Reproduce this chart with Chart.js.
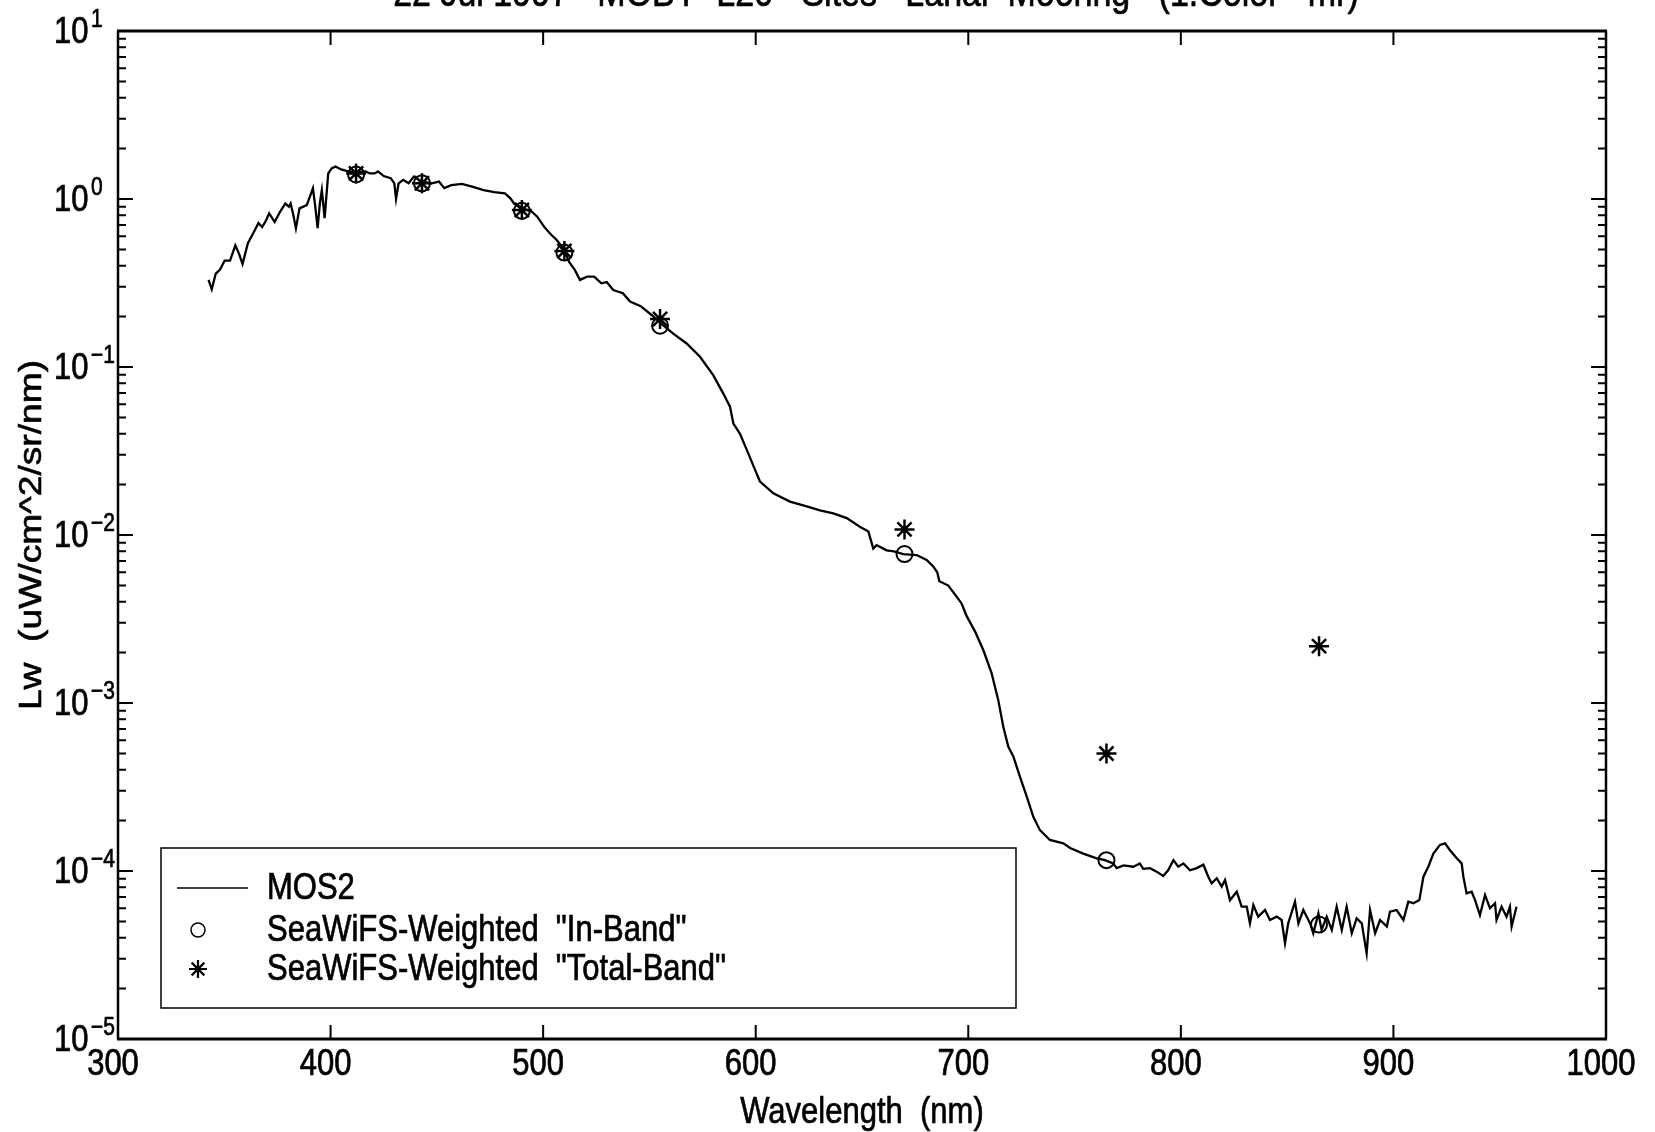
<!DOCTYPE html>
<html lang="en">
<head>
    <meta charset="UTF-8">
    <title>MOBY L20 - Lw spectrum</title>
    <script src="https://cdn.jsdelivr.net/npm/chart.js"></script>
    <style>
        html, body { margin: 0; padding: 0; background: #fff; }
        #wrap { width: 1655px; height: 1132px; }
    </style>
</head>
<body>
    <div id="wrap"><canvas id="lwChart" width="1655" height="1132"></canvas></div>
    <script>
        // MOS2 spectrum
        const mosWavelength = [
            342.6, 344.1, 346.0, 348.0, 350.2, 352.7, 355.2, 357.0, 358.6, 361.1,
            363.6, 366.1, 367.8, 369.5, 371.1, 373.7, 376.0, 378.7, 380.4, 381.2,
            382.5, 383.7, 385.4, 388.8, 390.5, 391.7, 392.8, 393.9, 395.0, 395.9,
            397.2, 398.9, 400.5, 402.3, 405.0, 408.2, 412.3, 416.5, 418.5, 420.7,
            422.3, 425.0, 428.3, 430.0, 430.8, 432.0, 434.2, 436.7, 439.2, 441.5,
            443.4, 447.6, 451.0, 453.5, 456.8, 461.8, 467.0, 472.0, 477.0, 482.0,
            484.6, 486.3, 490.5, 494.7, 497.2, 500.6, 503.9, 506.4, 509.8, 512.3,
            514.8, 517.3, 520.7, 524.0, 527.4, 529.9, 533.0, 537.5, 540.9, 545.9,
            551.0, 555.1, 561.2, 567.5, 573.8, 580.0, 584.7, 587.9, 589.5, 592.6,
            596.5, 599.7, 602.0, 608.3, 616.1, 624.0, 630.2, 636.5, 642.8, 649.0,
            653.0, 655.3, 656.9, 661.6, 665.0, 669.4, 675.7, 680.4, 683.5, 685.4,
            686.4, 690.6, 694.5, 696.9, 699.2, 703.2, 707.1, 711.0, 714.1, 716.5,
            718.8, 721.2, 724.3, 727.5, 730.6, 733.7, 738.4, 744.7, 747.9, 754.1,
            760.4, 764.3, 768.2, 769.8, 773.0, 777.6, 780.7, 782.3, 785.5, 788.6,
            791.7, 794.0, 796.5, 798.8, 801.2, 804.3, 807.5, 810.6, 812.9, 814.5,
            816.9, 819.2, 820.8, 823.1, 826.3, 828.6, 831.0, 832.5, 834.1, 836.4,
            839.6, 841.9, 845.1, 847.4, 849.0, 850.5, 853.7, 855.3, 857.6, 860.8,
            862.3, 864.7, 866.2, 868.6, 871.0, 873.3, 875.7, 878.0, 880.4, 882.7,
            885.1, 887.4, 889.0, 891.4, 893.7, 896.9, 898.4, 901.5, 904.7, 907.0,
            909.4, 912.2, 914.1, 916.4, 918.8, 921.9, 924.3, 926.6, 929.8, 932.1,
            932.9, 934.4, 936.8, 938.4, 940.7, 943.1, 945.4, 947.8, 948.5, 950.9,
            953.2, 954.8, 955.6, 957.9
        ];
        const mosLw = [
            0.33, 0.29, 0.36, 0.38, 0.43, 0.43, 0.53, 0.47, 0.41, 0.545,
            0.625, 0.72, 0.68, 0.74, 0.82, 0.73, 0.83, 0.94, 0.90, 0.94,
            0.80, 0.67, 0.88, 0.92, 1.05, 1.16, 0.90, 0.67, 0.95, 1.13,
            0.77, 1.42, 1.52, 1.56, 1.50, 1.46, 1.44, 1.46, 1.42, 1.42,
            1.46, 1.37, 1.33, 1.24, 1.00, 1.24, 1.30, 1.24, 1.36, 1.30,
            1.27, 1.24, 1.27, 1.16, 1.21, 1.23, 1.18, 1.13, 1.10, 1.08,
            1.01, 0.94, 0.88, 0.84, 0.785, 0.68, 0.61, 0.57, 0.50, 0.42,
            0.38, 0.33, 0.345, 0.345, 0.315, 0.32, 0.287, 0.275, 0.245, 0.23,
            0.204, 0.183, 0.158, 0.138, 0.115, 0.0895, 0.0697, 0.058, 0.046, 0.040,
            0.0306, 0.0244, 0.0208, 0.0177, 0.0158, 0.0148, 0.0140, 0.01346, 0.0126, 0.0112,
            0.0105, 0.0083, 0.0087, 0.0081, 0.0080, 0.0077, 0.0076, 0.0071, 0.0065, 0.0060,
            0.0053, 0.0050, 0.0043, 0.0039, 0.0033, 0.00266, 0.00206, 0.0015, 0.00104, 0.00072,
            0.00055, 0.00048, 0.000365, 0.000277, 0.00021, 0.000175, 0.000153, 0.000146, 0.000137, 0.000127,
            0.000119, 0.000116, 0.000111, 0.000104, 0.000108, 0.000106, 0.000111, 0.000103, 0.000104, 0.0000991,
            0.0000933, 0.000101, 0.000116, 0.000106, 0.000111, 0.000101, 0.000104, 0.000109, 0.0000925, 0.0000845,
            0.0000905, 0.0000807, 0.0000883, 0.0000671, 0.0000753, 0.0000613, 0.0000613, 0.0000488, 0.0000628, 0.0000535,
            0.0000586, 0.0000511, 0.0000535, 0.0000511, 0.0000372, 0.0000488, 0.0000656, 0.0000488, 0.0000586, 0.0000488,
            0.0000426, 0.000056, 0.0000446, 0.0000535, 0.0000446, 0.0000613, 0.0000446, 0.0000613, 0.0000426, 0.0000523,
            0.0000488, 0.0000324, 0.0000586, 0.0000426, 0.0000511, 0.0000467, 0.0000573, 0.0000586, 0.0000511, 0.0000656,
            0.0000643, 0.0000671, 0.0000925, 0.000106, 0.000127, 0.000143, 0.000146, 0.000133, 0.000119, 0.000111,
            0.0000925, 0.0000736, 0.0000753, 0.0000671, 0.0000547, 0.0000719, 0.0000600, 0.0000643, 0.0000511, 0.0000613,
            0.0000535, 0.0000613, 0.0000467, 0.0000613
        ];

        // SeaWiFS band-weighted values
        const bandWavelength = [412, 443, 490, 510, 555, 670, 765, 865];
        const inBandLw = [1.40, 1.24, 0.85, 0.48, 0.176, 0.0077, 0.000116, 0.000048];
        const totalBandLw = [1.42, 1.24, 0.86, 0.49, 0.193, 0.0108, 0.00050, 0.00218];

        const xTicks = [300, 400, 500, 600, 700, 800, 900, 1000];
        const yExponents = [1, 0, -1, -2, -3, -4, -5];

        const chartTitle = '22 Jul 1997   MOBY  L20   Sites   Lanai  Mooring   (1.Color   mr)';
        const xTitle = 'Wavelength  (nm)';
        const yTitle = 'Lw  (uW/cm^2/sr/nm)';

        const FONT = '"Liberation Sans", Arial, Helvetica, sans-serif';
        const STRETCH = 1.2; // the scanned text is taller than it is wide

        function tallText(ctx, str, x, y, size, align, baseline) {
            ctx.save();
            ctx.font = size + 'px ' + FONT;
            ctx.textAlign = align;
            ctx.textBaseline = baseline;
            ctx.translate(x, y);
            ctx.scale(1, STRETCH);
            ctx.lineWidth = 0.6;
            ctx.strokeStyle = '#000';
            ctx.fillText(str, 0, 0);
            ctx.strokeText(str, 0, 0);
            ctx.restore();
        }

        const frameAndText = {
            id: 'frameAndText',
            afterDraw(chart) {
                const ctx = chart.ctx;
                const a = chart.chartArea;
                const xs = chart.scales.x;
                const ys = chart.scales.y;
                ctx.save();
                ctx.strokeStyle = '#000';
                ctx.fillStyle = '#000';
                ctx.lineCap = 'butt';

                // box
                ctx.lineWidth = 3;
                ctx.beginPath();
                ctx.moveTo(a.left - 1, a.top); ctx.lineTo(a.right + 1, a.top);
                ctx.moveTo(a.left - 1, a.bottom); ctx.lineTo(a.right + 1, a.bottom);
                ctx.stroke();
                ctx.lineWidth = 2.5;
                ctx.beginPath();
                ctx.moveTo(a.left, a.top); ctx.lineTo(a.left, a.bottom);
                ctx.moveTo(a.right, a.top); ctx.lineTo(a.right, a.bottom);
                ctx.stroke();

                // x ticks, inward on top and bottom
                ctx.lineWidth = 2;
                ctx.beginPath();
                xTicks.forEach(v => {
                    const px = xs.getPixelForValue(v);
                    ctx.moveTo(px, a.bottom); ctx.lineTo(px, a.bottom - 14);
                    ctx.moveTo(px, a.top); ctx.lineTo(px, a.top + 14);
                });
                ctx.stroke();

                // y ticks (log decades + minor), inward on left and right
                ctx.beginPath();
                yExponents.forEach(e => {
                    for (let m = 1; m <= 9; m++) {
                        const v = m * Math.pow(10, e);
                        if (v > ys.max * 1.0001) continue;
                        const py = ys.getPixelForValue(v);
                        const len = m === 1 ? 15 : 8;
                        ctx.moveTo(a.left, py); ctx.lineTo(a.left + len, py);
                        ctx.moveTo(a.right, py); ctx.lineTo(a.right - len, py);
                    }
                });
                ctx.stroke();

                // x tick labels
                xTicks.forEach(v => {
                    tallText(ctx, String(v), xs.getPixelForValue(v) - 5, a.bottom + 7, 31, 'center', 'top');
                });

                // y tick labels: 10 with superscript exponent
                yExponents.forEach(e => {
                    const py = ys.getPixelForValue(Math.pow(10, e));
                    tallText(ctx, '10', 54, py + 2, 31, 'left', 'middle');
                    tallText(ctx, e < 0 ? '\u2212' + Math.abs(e) : String(e), 91, py - 11, 21, 'left', 'middle');
                });

                // axis titles
                tallText(ctx, xTitle, (a.left + a.right) / 2, a.bottom + 74, 31, 'center', 'middle');
                ctx.save();
                ctx.font = '31px ' + FONT;
                ctx.textAlign = 'center';
                ctx.textBaseline = 'middle';
                ctx.translate(32, (a.top + a.bottom) / 2);
                ctx.scale(1, STRETCH);
                ctx.rotate(-Math.PI / 2);
                ctx.lineWidth = 0.6;
                ctx.fillText(yTitle, 0, 0);
                ctx.strokeText(yTitle, 0, 0);
                ctx.restore();

                // title, cut off at the top edge as in the scan
                tallText(ctx, chartTitle, 876, 6, 34, 'center', 'alphabetic');

                // legend box
                const lx = 161, ly = 848, lw = 855, lh = 160;
                ctx.lineWidth = 1.5;
                ctx.fillStyle = '#fff';
                ctx.fillRect(lx, ly, lw, lh);
                ctx.strokeRect(lx, ly, lw, lh);
                const rows = [888, 930, 969];
                const ds = chart.data.datasets;
                // line sample
                ctx.lineWidth = 1.5;
                ctx.beginPath();
                ctx.moveTo(177, rows[0]); ctx.lineTo(248, rows[0]);
                ctx.stroke();
                ctx.fillStyle = 'rgba(0,0,0,0)';
                ctx.strokeStyle = '#000';
                Chart.helpers.drawPoint(ctx, {pointStyle: 'circle', radius: 7, borderWidth: 1.8, rotation: 0}, 198, rows[1]);
                ctx.lineWidth = 2.2;
                Chart.helpers.drawPoint(ctx, {pointStyle: 'star', radius: 9, borderWidth: 2.2, rotation: 0}, 198, rows[2]);
                ctx.fillStyle = '#000';
                ds.forEach((d, i) => {
                    tallText(ctx, d.label, 267, rows[i] + 1, 31, 'left', 'middle');
                });
                ctx.restore();
            }
        };

        const ctx = document.getElementById('lwChart').getContext('2d');
        const lwChart = new Chart(ctx, {
            type: 'scatter',
            data: {
                datasets: [
                    {
                        label: 'MOS2',
                        data: mosWavelength.map((w, i) => ({x: w, y: mosLw[i]})),
                        showLine: true,
                        borderColor: '#000',
                        borderWidth: 2.3,
                        pointRadius: 0,
                        tension: 0,
                        order: 3
                    },
                    {
                        label: 'SeaWiFS-Weighted  "In-Band"',
                        data: bandWavelength.map((w, i) => ({x: w, y: inBandLw[i]})),
                        showLine: false,
                        pointStyle: 'circle',
                        pointRadius: 8,
                        pointBorderWidth: 2,
                        pointBorderColor: '#000',
                        pointBackgroundColor: 'rgba(0,0,0,0)',
                        order: 2
                    },
                    {
                        label: 'SeaWiFS-Weighted  "Total-Band"',
                        data: bandWavelength.map((w, i) => ({x: w, y: totalBandLw[i]})),
                        showLine: false,
                        pointStyle: 'star',
                        pointRadius: 10,
                        pointBorderWidth: 2.5,
                        pointBorderColor: '#000',
                        pointBackgroundColor: '#000',
                        order: 1
                    }
                ]
            },
            options: {
                responsive: false,
                animation: false,
                devicePixelRatio: 1,
                layout: {
                    padding: {left: 118, right: 49, top: 31, bottom: 93}
                },
                scales: {
                    x: {type: 'linear', min: 300, max: 1000, display: false},
                    y: {type: 'logarithmic', min: 1e-5, max: 10, display: false}
                },
                plugins: {
                    legend: {display: false},
                    title: {display: false},
                    tooltip: {enabled: false}
                }
            },
            plugins: [frameAndText]
        });
    </script>
</body>
</html>
